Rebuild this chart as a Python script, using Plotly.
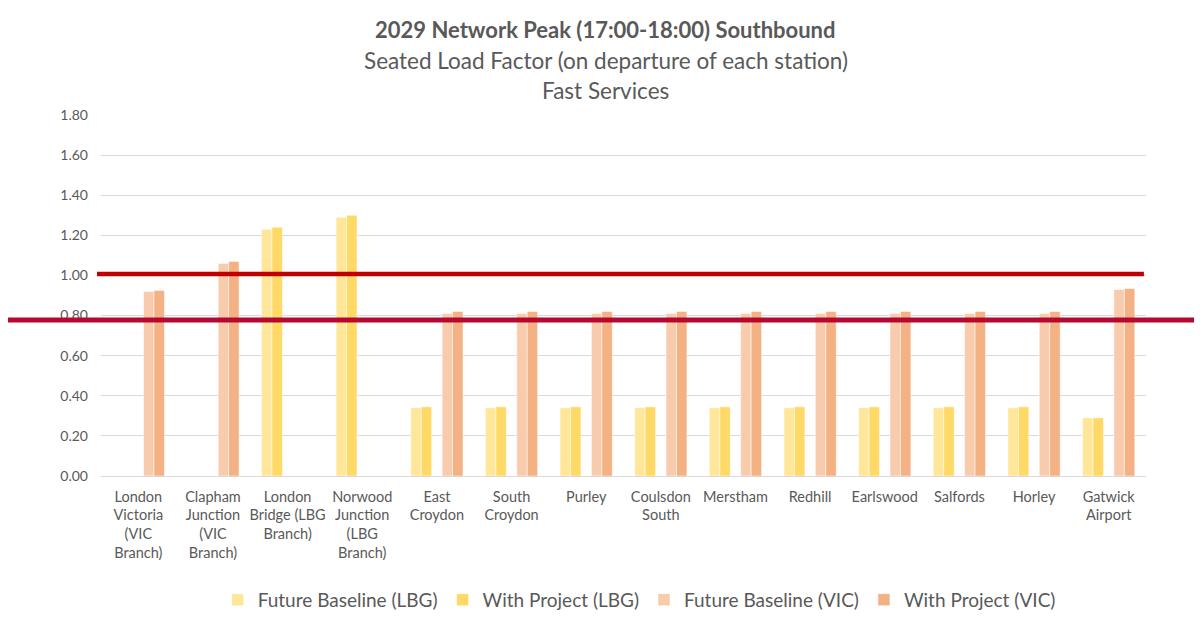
import plotly.graph_objects as go

stations = ["London Victoria", "Clapham Junction", "London Bridge", "Norwood Junction",
            "East Croydon", "South Croydon", "Purley", "Coulsdon South", "Merstham",
            "Redhill", "Earlswood", "Salfords", "Horley", "Gatwick Airport"]
tick_labels = ["London<br>Victoria<br>(VIC<br>Branch)", "Clapham<br>Junction<br>(VIC<br>Branch)",
               "London<br>Bridge (LBG<br>Branch)", "Norwood<br>Junction<br>(LBG<br>Branch)",
               "East<br>Croydon", "South<br>Croydon", "Purley", "Coulsdon<br>South", "Merstham",
               "Redhill", "Earlswood", "Salfords", "Horley", "Gatwick<br>Airport"]

fb_lbg = [0, 0, 1.23, 1.29, 0.34, 0.34, 0.34, 0.34, 0.34, 0.34, 0.34, 0.34, 0.34, 0.29]
wp_lbg = [0, 0, 1.24, 1.30, 0.345, 0.345, 0.345, 0.345, 0.345, 0.345, 0.345, 0.345, 0.345, 0.29]
fb_vic = [0.92, 1.06, 0, 0, 0.81, 0.81, 0.81, 0.81, 0.81, 0.81, 0.81, 0.81, 0.81, 0.93]
wp_vic = [0.925, 1.07, 0, 0, 0.82, 0.82, 0.82, 0.82, 0.82, 0.82, 0.82, 0.82, 0.82, 0.935]

series = [
    ("Future Baseline (LBG)", fb_lbg, "#FFE699", -0.35),
    ("With Project (LBG)", wp_lbg, "#FFD966", -0.21),
    ("Future Baseline (VIC)", fb_vic, "#F8CBAD", 0.07),
    ("With Project (VIC)", wp_vic, "#F4B183", 0.21),
]

FONT = "Lato"
GREY = "#595959"

fig = go.Figure()
for name, vals, color, off in series:
    fig.add_trace(go.Bar(
        x=stations, y=vals, name=name, offset=off, width=0.14,
        marker=dict(color=color, line=dict(color="rgba(255,255,255,0.5)", width=1)),
    ))

# page body has an 8px margin; compensate so the plot sits where the reference has it
fig.update_layout(
    width=1194, height=626,
    margin=dict(l=93, r=56, t=107, b=158, autoexpand=False),
    paper_bgcolor="white", plot_bgcolor="white",
    barmode="overlay",
    showlegend=True,
    font=dict(family=FONT, color=GREY, size=14),
    legend=dict(orientation="h", x=0.515, xanchor="center", y=-0.343, yanchor="middle",
                font=dict(size=19, color=GREY), itemwidth=30, traceorder="normal"),
    xaxis=dict(tickmode="array", tickvals=stations, ticktext=tick_labels,
               tickfont=dict(size=14.5, color=GREY), showgrid=False, showline=False,
               ticks="", tickangle=0, ticklabelstandoff=10),
    yaxis=dict(range=[0, 1.8], tickvals=[0, 0.2, 0.4, 0.6, 0.8, 1.0, 1.2, 1.4, 1.6, 1.8],
               tickformat=".2f", showgrid=True, gridcolor="#D9D9D9", gridwidth=1,
               zeroline=True, zerolinecolor="#D9D9D9", zerolinewidth=1,
               tickfont=dict(size=14, color=GREY), ticks="", ticklabelstandoff=12),
)

titles = [("<b>2029 Network Peak (17:00-18:00) Southbound</b>", 1.2355, 22),
          ("Seated Load Factor (on departure of each station)", 1.152, 22.5),
          ("Fast Services", 1.069, 22.5)]
for txt, yy, sz in titles:
    fig.add_annotation(text=txt, x=0.483, y=yy, xref="paper", yref="paper",
                       showarrow=False, xanchor="center", yanchor="middle",
                       font=dict(family=FONT, size=sz, color=GREY))

# red reference lines
fig.add_shape(type="line", xref="paper", yref="y", x0=-0.0038, x1=0.998, y0=1.007, y1=1.007,
              line=dict(color="#C00000", width=4.5), layer="above")
fig.add_shape(type="line", xref="paper", yref="y", x0=-0.1, x1=1.06, y0=0.778, y1=0.778,
              line=dict(color="#B5092F", width=5), layer="above")

fig.write_html("out.html")
